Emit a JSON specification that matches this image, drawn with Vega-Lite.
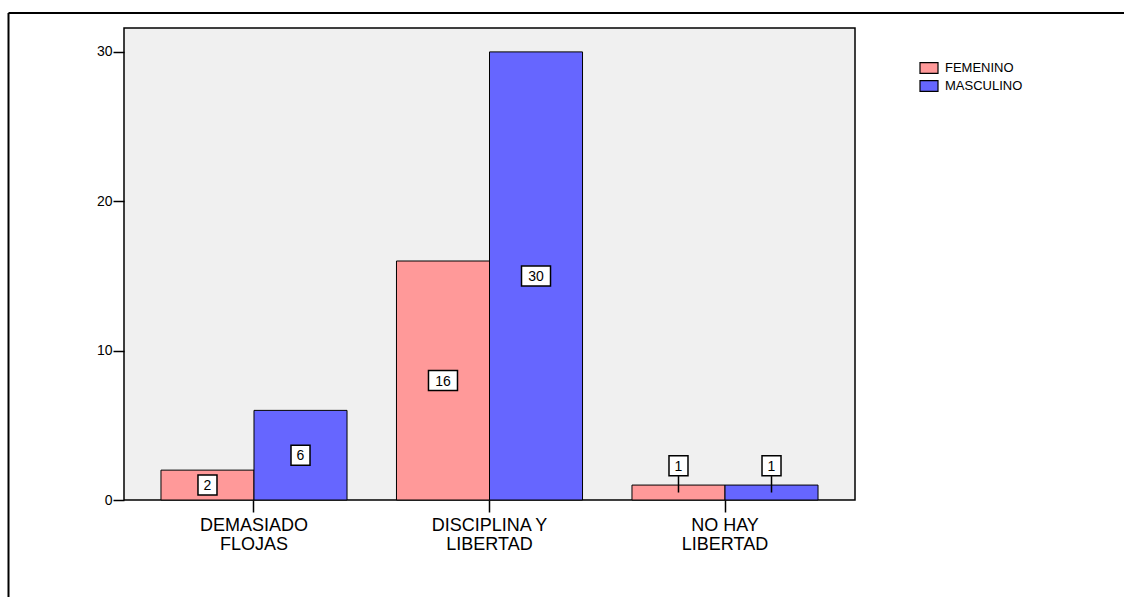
{
  "$schema": "https://vega.github.io/schema/vega-lite/v6.json",
  "autosize": {"type": "none"},
  "padding": {"left": 124, "top": 28, "right": 269, "bottom": 97},
  "width": 731,
  "height": 472,
  "background": "white",
  "config": {
    "view": {"fill": "#f0f0f0", "stroke": "black", "strokeWidth": 1.5},
    "font": "Liberation Sans"
  },
  "datasets": {
    "conteo": [
      {"categoria": "DEMASIADO FLOJAS", "sexo": "FEMENINO", "n": 2},
      {"categoria": "DEMASIADO FLOJAS", "sexo": "MASCULINO", "n": 6},
      {"categoria": "DISCIPLINA Y LIBERTAD", "sexo": "FEMENINO", "n": 16},
      {"categoria": "DISCIPLINA Y LIBERTAD", "sexo": "MASCULINO", "n": 30},
      {"categoria": "NO HAY LIBERTAD", "sexo": "FEMENINO", "n": 1},
      {"categoria": "NO HAY LIBERTAD", "sexo": "MASCULINO", "n": 1}
    ]
  },
  "resolve": {"scale": {"x": "independent"}},
  "layer": [
    {
      "data": {"name": "conteo"},
      "encoding": {
        "x": {
          "field": "categoria", "type": "nominal",
          "sort": ["DEMASIADO FLOJAS", "DISCIPLINA Y LIBERTAD", "NO HAY LIBERTAD"],
          "scale": {"paddingInner": 0.21, "paddingOuter": 0.157},
          "axis": {
            "title": null, "labelAngle": 0, "labelFontSize": 18, "labelColor": "black",
            "labelFont": "Liberation Sans",
            "tickSize": 12, "tickWidth": 1.5, "tickColor": "black", "domain": false,
            "labelPadding": 4, "labelLineHeight": 19, "labelLimit": 0,
            "labelExpr": "[slice(datum.value, 0, lastindexof(datum.value, ' ')), slice(datum.value, lastindexof(datum.value, ' ') + 1)]"
          }
        },
        "xOffset": {"field": "sexo", "type": "nominal", "scale": {"paddingInner": 0, "paddingOuter": 0}}
      },
      "layer": [
        {
          "mark": {"type": "bar", "stroke": "black", "strokeWidth": 1},
          "encoding": {
            "y": {
              "field": "n", "type": "quantitative",
              "scale": {"domain": [0, 31.6], "nice": false},
              "axis": {
                "title": null, "values": [0, 10, 20, 30], "grid": false, "domain": false,
                "labelFontSize": 14, "labelColor": "black", "tickSize": 11, "tickColor": "black",
                "tickWidth": 1.5, "labelPadding": 1
              }
            },
            "color": {
              "field": "sexo", "type": "nominal",
              "scale": {"domain": ["FEMENINO", "MASCULINO"], "range": ["#ff9999", "#6666ff"]},
              "legend": {
                "title": null, "orient": "none", "legendX": 795, "legendY": 30,
                "symbolType": "M-1,-0.6H1V0.6H-1Z", "symbolSize": 324,
                "symbolStrokeColor": "black", "symbolStrokeWidth": 1.2, "symbolOpacity": 1,
                "labelFontSize": 13, "labelColor": "black", "labelOffset": 6, "rowPadding": -3
              }
            }
          }
        },
        {
          "transform": [{"filter": "datum.n == 1"}],
          "mark": {"type": "rule", "color": "black", "strokeWidth": 1.5},
          "encoding": {
            "y": {"datum": 0.5, "type": "quantitative"},
            "y2": {"datum": 1.6}
          }
        },
        {
          "transform": [{"calculate": "datum.n == 1 ? 2.3 : datum.n / 2", "as": "pos"}],
          "mark": {"type": "point", "filled": true, "fill": "white", "stroke": "black", "strokeWidth": 1.5, "opacity": 1},
          "encoding": {
            "y": {"field": "pos", "type": "quantitative"},
            "shape": {"condition": {"test": "datum.n >= 10", "value": "M-1,-0.69H1V0.69H-1Z"}, "value": "M-0.95,-1H0.95V1H-0.95Z"},
            "size": {"condition": {"test": "datum.n >= 10", "value": 841}, "value": 400}
          }
        },
        {
          "transform": [{"calculate": "datum.n == 1 ? 2.3 : datum.n / 2", "as": "pos"}],
          "mark": {"type": "text", "fontSize": 14, "color": "black", "baseline": "middle", "align": "center", "dy": 1},
          "encoding": {
            "y": {"field": "pos", "type": "quantitative"},
            "text": {"field": "n", "type": "quantitative"}
          }
        }
      ]
    },
    {
      "data": {"values": [{"borde": "marco"}]},
      "mark": {"type": "rule", "color": "black", "strokeWidth": 2, "clip": false},
      "encoding": {
        "x": {"datum": -0.158, "type": "quantitative", "scale": {"domain": [0, 1], "nice": false, "zero": false}, "axis": null},
        "x2": {"datum": 1.6},
        "y": {"datum": 32.6, "type": "quantitative"},
        "y2": {"datum": 32.6}
      }
    },
    {
      "data": {"values": [{"borde": "marco"}]},
      "mark": {"type": "rule", "color": "black", "strokeWidth": 2, "clip": false},
      "encoding": {
        "x": {"datum": -0.158, "type": "quantitative", "scale": {"domain": [0, 1], "nice": false, "zero": false}, "axis": null},
        "y": {"datum": 32.6, "type": "quantitative"},
        "y2": {"datum": -8}
      }
    }
  ]
}
